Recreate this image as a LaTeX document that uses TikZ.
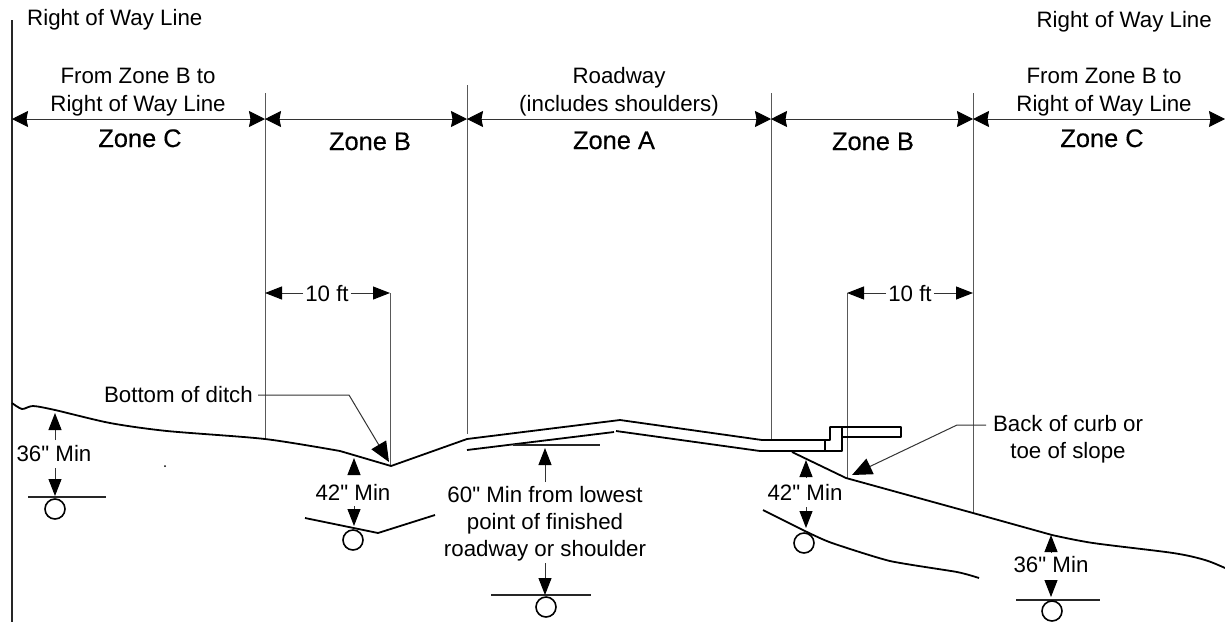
\documentclass[tikz,border=0pt]{standalone}
\usepackage{fontspec}
\setmainfont{Liberation Sans}
\newfontfamily\lblfont{Liberation Sans}
\newfontfamily\zonefont[FakeBold=0.35]{Liberation Sans}
\usetikzlibrary{arrows.meta}
\tikzset{
  x=1pt,y=-1pt,
  lbl/.style={inner sep=0pt,anchor=base,align=center,font=\lblfont\fontsize{22.3}{27.5}\selectfont,text=black},
  zonelbl/.style={inner sep=0pt,anchor=base,font=\zonefont\fontsize{25.4}{30}\selectfont},
  ext/.style={line width=1pt,draw=black!65},
  dimline/.style={line width=1pt,draw=black!80,{Stealth[length=16pt,width=16pt,inset=1.5pt,black]}-{Stealth[length=16pt,width=16pt,inset=1.5pt,black]}},
  dimhead/.style={line width=1pt,draw=black!80,-{Triangle[length=17pt,width=13pt,black]}},
  leader/.style={line width=1pt,draw=black!80,-{Triangle[length=20pt,width=17pt,black]}},
  ground/.style={line width=1.8pt,draw=black,line join=round},
  thinline/.style={line width=1.1pt,draw=black!85},
  pipe/.style={line width=1.6pt,draw=black,fill=white},
}
\begin{document}
\begin{tikzpicture}
\useasboundingbox (0,0) rectangle (1225,625);
% right of way line and extension lines
\coordinate (rowT) at (12,20); \coordinate (rowB) at (12,622);
\draw[line width=2pt,draw=black!85] (rowT) -- (rowB);
\coordinate (e1T) at (265,93);  \coordinate (e1B) at (265,439);
\coordinate (e2T) at (467,85);  \coordinate (e2B) at (467,434);
\coordinate (e3T) at (771,93);  \coordinate (e3B) at (771,440);
\coordinate (e4T) at (973,93);  \coordinate (e4B) at (973,513);
\draw[ext] (e1T)--(e1B); \draw[ext] (e2T)--(e2B); \draw[ext] (e3T)--(e3B); \draw[ext] (e4T)--(e4B);
% zone dimension line
\coordinate (d0) at (12,119); \coordinate (d1) at (265,119); \coordinate (d2) at (467,119);
\coordinate (d3) at (771,119); \coordinate (d4) at (973,119); \coordinate (d5) at (1225,119);
\draw[dimline] (d0)--(d1); \draw[dimline] (d1)--(d2); \draw[dimline] (d2)--(d3);
\draw[dimline] (d3)--(d4); \draw[dimline] (d4)--(d5);
% top labels
\node[lbl,anchor=base west] (rowL) at (27,25) {Right of Way Line};
\node[lbl,anchor=base east] (rowR) at (1212,27) {Right of Way Line};
\node[lbl] (fromL) at (138,83) {From Zone B to};
\node[lbl] (fromL2) at (138,111) {Right of Way Line};
\node[lbl] (road) at (619,83) {Roadway};
\node[lbl] (road2) at (619,111) {(includes shoulders)};
\node[lbl] (fromR) at (1104,83) {From Zone B to};
\node[lbl] (fromR2) at (1104,111) {Right of Way Line};
\node[zonelbl] (zc1) at (140,147) {Zone C};
\node[zonelbl] (zb1) at (370,150) {Zone B};
\node[zonelbl] (za) at (614,149) {Zone A};
\node[zonelbl] (zb2) at (873,150) {Zone B};
\node[zonelbl] (zc2) at (1102,147) {Zone C};
% 10 ft dimensions
\node[lbl,fill=white,inner xsep=2pt,inner ysep=1pt] (tenL) at (327,301) {10 ft};
\node[lbl,fill=white,inner xsep=2pt,inner ysep=1pt] (tenR) at (910,301) {10 ft};
\coordinate (tL0) at (265,293); \coordinate (tL1) at (390,293);
\coordinate (tR0) at (847,293); \coordinate (tR1) at (973,293);
\coordinate (tLb) at (390,465); \coordinate (tRb) at (847,478);
\draw[ext] (tL1)--(tLb); \draw[ext] (tR0)--(tRb);
\draw[dimhead] (tenL.west |- tL0) -- (tL0);
\draw[dimhead] (tenL.east |- tL1) -- (tL1);
\draw[dimhead] (tenR.west |- tR0) -- (tR0);
\draw[dimhead] (tenR.east |- tR1) -- (tR1);
% ground, left
\draw[ground] plot[smooth,tension=0.45] coordinates {(12,403) (22,409) (33,406) (55,410) (110,423) (167,431) (265,439) (340,451)}
  -- (391,466) -- (467,439) -- (620,420) -- (762,440) -- (825,440) -- (825,451);
% pavement underside and curb
\draw[ground] (467,450) -- (614,432);
\draw[ground] (616,431) -- (760,451) -- (842,451) -- (842,427) -- (830,427) -- (830,440) -- (825,440);
\draw[ground] (842,427) -- (901,427) -- (901,437) -- (842,437);
% slope, right
\draw[ground] (792,452) -- (846,478) -- (973,513) -- (1052,535) plot[smooth,tension=0.5] coordinates {(1052,535) (1093,543) (1173,553) (1205,560) (1225,568)};
% utility trench lines
\draw[thinline] (28,497) -- (106,497);
\draw[ground] (305,518) -- (378,533) -- (435,515);
\draw[thinline] (513,445) -- (600,445);
\draw[thinline] (491,595) -- (591,595);
\draw[ground] plot[smooth,tension=0.35] coordinates {(763,510) (807,532) (832,543) (890,561) (957,572) (979,578)};
\draw[thinline] (1016,600) -- (1100,600);
% pipes
\node[pipe,circle,minimum size=20pt,inner sep=0pt] (p1) at (55,509) {};
\node[pipe,circle,minimum size=20pt,inner sep=0pt] (p2) at (353,540) {};
\node[pipe,circle,minimum size=20pt,inner sep=0pt] (p3) at (546,607) {};
\node[pipe,circle,minimum size=20pt,inner sep=0pt] (p4) at (804,543) {};
\node[pipe,circle,minimum size=20pt,inner sep=0pt] (p5) at (1052,611) {};
% depth labels
\node[lbl] (m1) at (54,461) {36" Min};
\node[lbl] (m2) at (353,500) {42" Min};
\node[lbl] (m3) at (545,502) {60" Min from lowest};
\node[lbl] (m3b) at (545,529) {point of finished};
\node[lbl] (m3c) at (545,556) {roadway or shoulder};
\node[lbl] (m4) at (805,500) {42" Min};
\node[lbl] (m5) at (1051,572) {36" Min};
% depth arrows
\coordinate (a1a) at (55,440); \coordinate (a1b) at (55,413); \coordinate (a1c) at (55,468); \coordinate (a1d) at (55,496);
\coordinate (a2a) at (354,474); \coordinate (a2b) at (354,458); \coordinate (a2c) at (354,506); \coordinate (a2d) at (354,526);
\coordinate (a3a) at (545,482); \coordinate (a3b) at (545,448); \coordinate (a3c) at (545,563); \coordinate (a3d) at (545,595);
\coordinate (a4a) at (806,478); \coordinate (a4b) at (806,460); \coordinate (a4c) at (806,507); \coordinate (a4d) at (806,528);
\coordinate (a5a) at (1051,552); \coordinate (a5b) at (1051,535); \coordinate (a5c) at (1051,580); \coordinate (a5d) at (1051,597);
\foreach \n in {1,...,5} {
  \draw[dimhead] (a\n a) -- (a\n b);
  \draw[dimhead] (a\n c) -- (a\n d);
}
% leaders
\node[lbl,anchor=base east] (ditch) at (253,402) {Bottom of ditch};
\coordinate (ditchK) at (349,395); \coordinate (ditchT) at (389,462);
\draw[leader] (ditch.east |- ditchK) ++(5,0) -- (ditchK) -- (ditchT);
\node[lbl] (curb) at (1068,431) {Back of curb or};
\node[lbl] (curb2) at (1068,458) {toe of slope};
\coordinate (curbK) at (957,425); \coordinate (curbT) at (852,475); \coordinate (curbS) at (986,425);
\draw[leader] (curbS) -- (curbK) -- (curbT);
% stray dot
\fill (165,466) circle (1pt);
\end{tikzpicture}
\end{document}
